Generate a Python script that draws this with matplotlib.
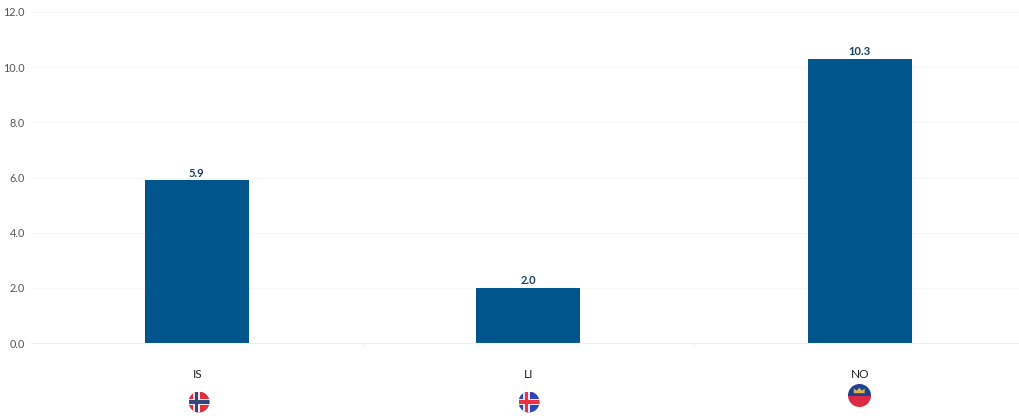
import matplotlib
matplotlib.use("Agg")
import matplotlib.pyplot as plt
from matplotlib.patches import Circle, Rectangle, Polygon

categories = ["IS", "LI", "NO"]
values = [5.9, 2.0, 10.3]
value_labels = ["5.9", "2.0", "10.3"]
y_ticks = [0, 2, 4, 6, 8, 10, 12]

W, H = 1019, 416
BLUE = "#00558C"
plt.rcParams["font.family"] = ["Lato", "DejaVu Sans"]

fig = plt.figure(figsize=(W / 100, H / 100), dpi=100, facecolor="white")
ax = fig.add_axes([31 / W, 1 - 343 / H, (W - 31) / W, 331 / H])
ax.set_xlim(-0.5, 2.48)
ax.set_ylim(0, 12)

ax.set_yticks(y_ticks)
ax.set_yticklabels([f"{v:.1f}" for v in y_ticks], fontsize=7.8, color="#555555")
ax.tick_params(axis="y", length=0, pad=4.5)
ax.grid(axis="y", color="#F7F7F7", lw=0.8)
ax.set_axisbelow(True)
for s in ax.spines.values():
    s.set_visible(False)
ax.spines["bottom"].set_visible(True)
ax.spines["bottom"].set_color("#EFEFEF")
ax.spines["bottom"].set_linewidth(0.8)

x = list(range(len(categories)))
ax.bar(x, values, width=0.314, color=BLUE, edgecolor="none")
for xi, v, lab in zip(x, values, value_labels):
    ax.annotate(lab, (xi, v), xytext=(0, 1.2), textcoords="offset points",
                ha="center", va="bottom", fontsize=8, fontweight="bold", color="#173F62")

# tick marks between categories
ax.set_xticks([0.5, 1.5])
ax.set_xticklabels([])
ax.tick_params(axis="x", length=2.5, color="#EAEAEA", width=0.7)

# category labels
for xi, c in zip(x, categories):
    ax.annotate(c, (xi, 0), xytext=(0.5, -31), textcoords="offset pixels",
                ha="center", va="center", fontsize=8.6, color="#222222",
                annotation_clip=False)


def flag_axes(cx, cy, r):
    a = fig.add_axes([(cx - r) / W, 1 - (cy + r) / H, 2 * r / W, 2 * r / H])
    a.set_xlim(-1, 1)
    a.set_ylim(-1, 1)
    a.axis("off")
    clip = Circle((0, 0), 1, transform=a.transData)
    return a, clip


def add(a, clip, *patches):
    for p in patches:
        p.set_clip_path(clip)
        a.add_patch(p)


def cross_flag(cx, cy, r, bg, outer, inner):
    a, clip = flag_axes(cx, cy, r)
    add(a, clip,
        Rectangle((-1, -1), 2, 2, color=bg, lw=0),
        Rectangle((-0.55, -1), 0.62, 2, color=outer, lw=0),
        Rectangle((-1, -0.31), 2, 0.62, color=outer, lw=0),
        Rectangle((-0.40, -1), 0.32, 2, color=inner, lw=0),
        Rectangle((-1, -0.16), 2, 0.32, color=inner, lw=0))


cross_flag(199, 402, 10.5, "#E0303F", "#F2E6E8", "#2F4A7C")
cross_flag(529, 402, 10.5, "#2E45B8", "#F0E8EE", "#EE3340")

a, clip = flag_axes(859.5, 395.5, 11.5)
add(a, clip,
    Rectangle((-1, 0), 2, 1, color="#1F3F8F", lw=0),
    Rectangle((-1, -1), 2, 1, color="#DC2A44", lw=0),
    Polygon([(-0.5, 0.2), (-0.5, 0.62), (-0.25, 0.42), (-0.02, 0.68),
             (0.22, 0.42), (0.45, 0.62), (0.45, 0.2)], closed=True,
            color="#D9B44A", lw=0))

fig.savefig("out.png", dpi=100, facecolor="white")
